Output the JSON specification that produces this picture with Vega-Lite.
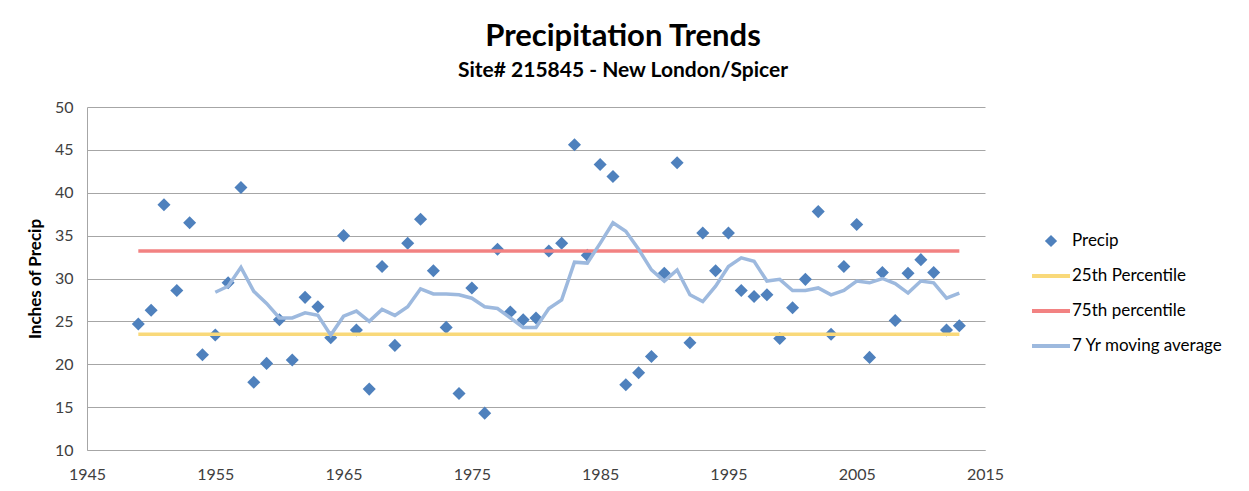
{
  "$schema": "https://vega.github.io/schema/vega-lite/v6.json",
  "width": 898,
  "height": 343,
  "autosize": {"type": "none"},
  "padding": {"left": 87, "top": 107, "right": 264, "bottom": 41},
  "background": "white",
  "config": {
    "font": "Lato",
    "view": {"stroke": null},
    "axis": {
      "gridColor": "#A6A6A6",
      "domainColor": "#A6A6A6",
      "labelColor": "#404040",
      "labelFont": "Lato",
      "labelFontSize": 16,
      "ticks": false
    }
  },
  "title": {
    "text": "Precipitation Trends",
    "subtitle": "Site# 215845 - New London/Spicer",
    "anchor": "middle",
    "dx": 87,
    "fontSize": 31,
    "fontWeight": "bold",
    "color": "#000000",
    "subtitleFontSize": 21,
    "subtitleFontWeight": "bold",
    "subtitleColor": "#000000",
    "subtitlePadding": 7,
    "offset": 17
  },
  "data": {
    "values": [
      {"year": 1949, "value": 24.7, "series": "Precip"},
      {"year": 1950, "value": 26.3, "series": "Precip"},
      {"year": 1951, "value": 38.6, "series": "Precip"},
      {"year": 1952, "value": 28.6, "series": "Precip"},
      {"year": 1953, "value": 36.5, "series": "Precip"},
      {"year": 1954, "value": 21.1, "series": "Precip"},
      {"year": 1955, "value": 23.4, "series": "Precip"},
      {"year": 1956, "value": 29.5, "series": "Precip"},
      {"year": 1957, "value": 40.6, "series": "Precip"},
      {"year": 1958, "value": 17.9, "series": "Precip"},
      {"year": 1959, "value": 20.1, "series": "Precip"},
      {"year": 1960, "value": 25.2, "series": "Precip"},
      {"year": 1961, "value": 20.5, "series": "Precip"},
      {"year": 1962, "value": 27.8, "series": "Precip"},
      {"year": 1963, "value": 26.7, "series": "Precip"},
      {"year": 1964, "value": 23.1, "series": "Precip"},
      {"year": 1965, "value": 35.0, "series": "Precip"},
      {"year": 1966, "value": 24.0, "series": "Precip"},
      {"year": 1967, "value": 17.1, "series": "Precip"},
      {"year": 1968, "value": 31.4, "series": "Precip"},
      {"year": 1969, "value": 22.2, "series": "Precip"},
      {"year": 1970, "value": 34.1, "series": "Precip"},
      {"year": 1971, "value": 36.9, "series": "Precip"},
      {"year": 1972, "value": 30.9, "series": "Precip"},
      {"year": 1973, "value": 24.3, "series": "Precip"},
      {"year": 1974, "value": 16.6, "series": "Precip"},
      {"year": 1975, "value": 28.9, "series": "Precip"},
      {"year": 1976, "value": 14.3, "series": "Precip"},
      {"year": 1977, "value": 33.4, "series": "Precip"},
      {"year": 1978, "value": 26.1, "series": "Precip"},
      {"year": 1979, "value": 25.2, "series": "Precip"},
      {"year": 1980, "value": 25.4, "series": "Precip"},
      {"year": 1981, "value": 33.2, "series": "Precip"},
      {"year": 1982, "value": 34.1, "series": "Precip"},
      {"year": 1983, "value": 45.6, "series": "Precip"},
      {"year": 1984, "value": 32.7, "series": "Precip"},
      {"year": 1985, "value": 43.3, "series": "Precip"},
      {"year": 1986, "value": 41.9, "series": "Precip"},
      {"year": 1987, "value": 17.6, "series": "Precip"},
      {"year": 1988, "value": 19.0, "series": "Precip"},
      {"year": 1989, "value": 20.9, "series": "Precip"},
      {"year": 1990, "value": 30.6, "series": "Precip"},
      {"year": 1991, "value": 43.5, "series": "Precip"},
      {"year": 1992, "value": 22.5, "series": "Precip"},
      {"year": 1993, "value": 35.3, "series": "Precip"},
      {"year": 1994, "value": 30.9, "series": "Precip"},
      {"year": 1995, "value": 35.3, "series": "Precip"},
      {"year": 1996, "value": 28.6, "series": "Precip"},
      {"year": 1997, "value": 27.9, "series": "Precip"},
      {"year": 1998, "value": 28.1, "series": "Precip"},
      {"year": 1999, "value": 23.0, "series": "Precip"},
      {"year": 2000, "value": 26.6, "series": "Precip"},
      {"year": 2001, "value": 29.9, "series": "Precip"},
      {"year": 2002, "value": 37.8, "series": "Precip"},
      {"year": 2003, "value": 23.5, "series": "Precip"},
      {"year": 2004, "value": 31.4, "series": "Precip"},
      {"year": 2005, "value": 36.3, "series": "Precip"},
      {"year": 2006, "value": 20.8, "series": "Precip"},
      {"year": 2007, "value": 30.7, "series": "Precip"},
      {"year": 2008, "value": 25.1, "series": "Precip"},
      {"year": 2009, "value": 30.6, "series": "Precip"},
      {"year": 2010, "value": 32.2, "series": "Precip"},
      {"year": 2011, "value": 30.7, "series": "Precip"},
      {"year": 2012, "value": 24.0, "series": "Precip"},
      {"year": 2013, "value": 24.5, "series": "Precip"},
      {"year": 1949, "value": 23.5, "series": "25th Percentile"},
      {"year": 2013, "value": 23.5, "series": "25th Percentile"},
      {"year": 1949, "value": 33.2, "series": "75th percentile"},
      {"year": 2013, "value": 33.2, "series": "75th percentile"},
      {"year": 1955, "value": 28.4, "series": "7 Yr moving average"},
      {"year": 1956, "value": 29.1, "series": "7 Yr moving average"},
      {"year": 1957, "value": 31.3, "series": "7 Yr moving average"},
      {"year": 1958, "value": 28.5, "series": "7 Yr moving average"},
      {"year": 1959, "value": 27.1, "series": "7 Yr moving average"},
      {"year": 1960, "value": 25.4, "series": "7 Yr moving average"},
      {"year": 1961, "value": 25.4, "series": "7 Yr moving average"},
      {"year": 1962, "value": 26.0, "series": "7 Yr moving average"},
      {"year": 1963, "value": 25.7, "series": "7 Yr moving average"},
      {"year": 1964, "value": 23.4, "series": "7 Yr moving average"},
      {"year": 1965, "value": 25.6, "series": "7 Yr moving average"},
      {"year": 1966, "value": 26.2, "series": "7 Yr moving average"},
      {"year": 1967, "value": 25.0, "series": "7 Yr moving average"},
      {"year": 1968, "value": 26.4, "series": "7 Yr moving average"},
      {"year": 1969, "value": 25.7, "series": "7 Yr moving average"},
      {"year": 1970, "value": 26.7, "series": "7 Yr moving average"},
      {"year": 1971, "value": 28.8, "series": "7 Yr moving average"},
      {"year": 1972, "value": 28.2, "series": "7 Yr moving average"},
      {"year": 1973, "value": 28.2, "series": "7 Yr moving average"},
      {"year": 1974, "value": 28.1, "series": "7 Yr moving average"},
      {"year": 1975, "value": 27.7, "series": "7 Yr moving average"},
      {"year": 1976, "value": 26.7, "series": "7 Yr moving average"},
      {"year": 1977, "value": 26.5, "series": "7 Yr moving average"},
      {"year": 1978, "value": 25.4, "series": "7 Yr moving average"},
      {"year": 1979, "value": 24.3, "series": "7 Yr moving average"},
      {"year": 1980, "value": 24.3, "series": "7 Yr moving average"},
      {"year": 1981, "value": 26.5, "series": "7 Yr moving average"},
      {"year": 1982, "value": 27.5, "series": "7 Yr moving average"},
      {"year": 1983, "value": 31.9, "series": "7 Yr moving average"},
      {"year": 1984, "value": 31.8, "series": "7 Yr moving average"},
      {"year": 1985, "value": 34.1, "series": "7 Yr moving average"},
      {"year": 1986, "value": 36.5, "series": "7 Yr moving average"},
      {"year": 1987, "value": 35.5, "series": "7 Yr moving average"},
      {"year": 1988, "value": 33.4, "series": "7 Yr moving average"},
      {"year": 1989, "value": 31.0, "series": "7 Yr moving average"},
      {"year": 1990, "value": 29.7, "series": "7 Yr moving average"},
      {"year": 1991, "value": 31.0, "series": "7 Yr moving average"},
      {"year": 1992, "value": 28.1, "series": "7 Yr moving average"},
      {"year": 1993, "value": 27.3, "series": "7 Yr moving average"},
      {"year": 1994, "value": 29.1, "series": "7 Yr moving average"},
      {"year": 1995, "value": 31.4, "series": "7 Yr moving average"},
      {"year": 1996, "value": 32.4, "series": "7 Yr moving average"},
      {"year": 1997, "value": 32.0, "series": "7 Yr moving average"},
      {"year": 1998, "value": 29.7, "series": "7 Yr moving average"},
      {"year": 1999, "value": 29.9, "series": "7 Yr moving average"},
      {"year": 2000, "value": 28.6, "series": "7 Yr moving average"},
      {"year": 2001, "value": 28.6, "series": "7 Yr moving average"},
      {"year": 2002, "value": 28.9, "series": "7 Yr moving average"},
      {"year": 2003, "value": 28.1, "series": "7 Yr moving average"},
      {"year": 2004, "value": 28.6, "series": "7 Yr moving average"},
      {"year": 2005, "value": 29.7, "series": "7 Yr moving average"},
      {"year": 2006, "value": 29.5, "series": "7 Yr moving average"},
      {"year": 2007, "value": 30.0, "series": "7 Yr moving average"},
      {"year": 2008, "value": 29.4, "series": "7 Yr moving average"},
      {"year": 2009, "value": 28.3, "series": "7 Yr moving average"},
      {"year": 2010, "value": 29.7, "series": "7 Yr moving average"},
      {"year": 2011, "value": 29.5, "series": "7 Yr moving average"},
      {"year": 2012, "value": 27.7, "series": "7 Yr moving average"},
      {"year": 2013, "value": 28.3, "series": "7 Yr moving average"}
    ]
  },
  "encoding": {
    "x": {
      "field": "year",
      "type": "quantitative",
      "scale": {"domain": [1945, 2015], "nice": false, "zero": false},
      "axis": {
        "title": null,
        "values": [1945, 1955, 1965, 1975, 1985, 1995, 2005, 2015],
        "format": "d",
        "grid": false,
        "labelPadding": 16,
        "labelFlush": false
      }
    },
    "y": {
      "field": "value",
      "type": "quantitative",
      "scale": {"domain": [10, 50], "nice": false, "zero": false},
      "axis": {
        "title": "Inches of Precip",
        "titleFontSize": 17,
        "titleFontWeight": "bold",
        "titleColor": "#000000",
        "titlePadding": 10,
        "values": [10, 15, 20, 25, 30, 35, 40, 45, 50],
        "labelPadding": 14,
        "labelFlush": false,
        "grid": true
      }
    },
    "color": {
      "field": "series",
      "type": "nominal",
      "scale": {
        "domain": ["Precip", "25th Percentile", "75th percentile", "7 Yr moving average"],
        "range": ["#4F81BD", "#F9D97A", "#F28282", "#9DB9DE"]
      },
      "legend": {
        "title": null,
        "orient": "none",
        "legendX": 945,
        "legendY": 115,
        "labelFontSize": 17,
        "labelColor": "#000000",
        "labelOffset": 2,
        "rowPadding": 8,
        "encode": {
          "symbols": {
            "update": {
              "shape": {"signal": "datum.value === 'Precip' ? 'diamond' : 'M-1,-0.1H1V0.1H-1Z'"},
              "size": {"signal": "datum.value === 'Precip' ? 150 : 1444"},
              "fill": {"scale": "color", "field": "value"},
              "strokeWidth": {"value": 0}
            }
          }
        }
      }
    }
  },
  "layer": [
    {
      "transform": [{"filter": "datum.series === 'Precip'"}],
      "mark": {"type": "point", "shape": "diamond", "filled": true, "size": 170, "opacity": 1}
    },
    {
      "transform": [{"filter": "datum.series !== 'Precip'"}],
      "mark": {"type": "line", "strokeWidth": 3.5},
      "encoding": {"order": {"field": "year", "type": "quantitative"}}
    }
  ]
}
